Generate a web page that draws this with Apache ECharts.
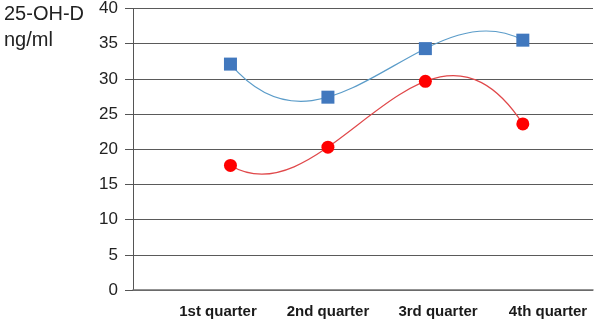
<!DOCTYPE html>
<html><head><meta charset="utf-8">
<script src="https://cdn.jsdelivr.net/npm/echarts@6/dist/echarts.min.js"></script>
<style>html,body{margin:0;padding:0;background:#fff}#c{width:596px;height:323px}</style>
</head><body><div id="c"></div>
<script>
var categories = ['1st quarter', '2nd quarter', '3rd quarter', '4th quarter'];
var positions = [1, 2, 3, 4];
var blueValues = [32.1, 27.4, 34.3, 35.5];
var redValues = [17.7, 20.3, 29.65, 23.6];
var yTicks = [0, 5, 10, 15, 20, 25, 30, 35, 40];

function pairs(vals) { return vals.map(function (v, i) { return [positions[i], v]; }); }

// Order-3 polynomial trendline through the four points, drawn as one cubic Bezier
function trendRender(values, color) {
  return function (params, api) {
    var y0 = values[0], y1 = values[1], y2 = values[2], y3 = values[3];
    var A = 27 * y1 - 8 * y0 - y3, B = 27 * y2 - y0 - 8 * y3;
    var b1 = (2 * A - B) / 18, b2 = (2 * B - A) / 18;
    var p0 = api.coord([positions[0], y0]);
    var c1 = api.coord([positions[1], b1]);
    var c2 = api.coord([positions[2], b2]);
    var p3 = api.coord([positions[3], y3]);
    return {
      type: 'bezierCurve',
      shape: { x1: p0[0], y1: p0[1], x2: p3[0], y2: p3[1], cpx1: c1[0], cpy1: c1[1], cpx2: c2[0], cpy2: c2[1] },
      style: { stroke: color, fill: null, lineWidth: 1.2 }
    };
  };
}

var chart = echarts.init(document.getElementById('c'));
chart.setOption({
  animation: false,
  textStyle: { fontFamily: 'Liberation Sans, Arial, sans-serif' },
  graphic: [{
    type: 'text', left: 4, top: 1,
    style: { text: '25-OH-D\nng/ml', font: '20px "Liberation Sans", Arial, sans-serif', fill: '#222', lineHeight: 26 }
  }],
  grid: { left: 133, right: 3, top: 8, bottom: 33 },
  xAxis: [{
    type: 'value', min: 0, max: 4.72,
    axisLine: { show: true, lineStyle: { color: '#707070', width: 1.5 } },
    axisTick: { show: false }, axisLabel: { show: false }, splitLine: { show: false }
  }, {
    type: 'value', min: 0.227, max: 4.409, position: 'bottom',
    axisLine: { show: false }, axisTick: { show: false }, splitLine: { show: false },
    axisLabel: {
      customValues: positions, margin: 14,
      formatter: function (v) { return categories[Math.round(v) - 1] || ''; },
      fontSize: 15, fontWeight: 'bold', color: '#1a1a1a'
    }
  }],
  yAxis: {
    type: 'value', min: 0, max: 40, interval: 5,
    axisLine: { show: true, lineStyle: { color: '#555' } },
    axisTick: { show: true, inside: false, length: 8, lineStyle: { color: '#555' } },
    axisLabel: { fontSize: 17, color: '#222', margin: 15,
      formatter: function (v) { return yTicks.indexOf(v) >= 0 ? String(v) : ''; } },
    splitLine: { show: true, lineStyle: { color: '#5a5a5a', width: 1 } }
  },
  series: [{
    type: 'custom', xAxisIndex: 0, yAxisIndex: 0, clip: false, z: 2,
    data: [[positions[0], blueValues[0]]],
    renderItem: trendRender(blueValues, '#5b9cc9')
  }, {
    type: 'custom', xAxisIndex: 0, yAxisIndex: 0, clip: false, z: 2,
    data: [[positions[0], redValues[0]]],
    renderItem: trendRender(redValues, '#e0484a')
  }, {
    type: 'scatter', xAxisIndex: 0, data: pairs(blueValues), z: 3,
    symbol: 'rect', symbolSize: 13,
    itemStyle: { color: '#4178be', opacity: 1 }
  }, {
    type: 'scatter', xAxisIndex: 0, data: pairs(redValues), z: 3,
    symbol: 'circle', symbolSize: 13,
    itemStyle: { color: '#ff0000', opacity: 1 }
  }]
});
</script></body></html>
